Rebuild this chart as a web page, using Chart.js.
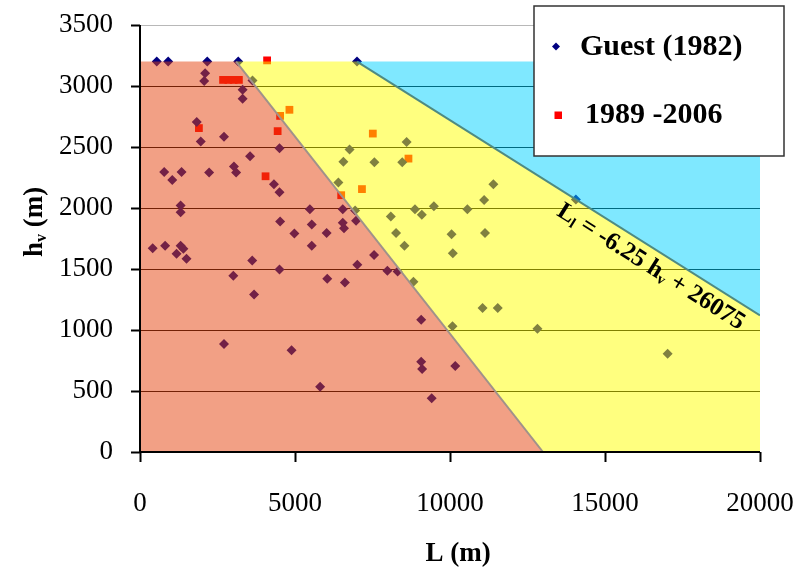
<!DOCTYPE html>
<html lang="en">
<head>
<meta charset="UTF-8">
<title>Runout L vs height hv</title>
<style>
  body { margin: 0; background: #fff; }
  .wrap { width: 800px; height: 574px; }
</style>
</head>
<body>
<div class="wrap"><canvas id="chart"></canvas></div>
<script src="https://cdn.jsdelivr.net/npm/chart.js"></script>
<script>
// axis ticks
const xTicks = [0, 5000, 10000, 15000, 20000];
const yTicks = [0, 500, 1000, 1500, 2000, 2500, 3000, 3500];

// Guest (1982): L (m), hv (m)
const guestL = [540, 910, 2170, 3170, 7000, 2100, 2070, 3630, 3310, 3310, 1830, 2710, 1960, 4500, 3550,
  780, 1340, 2230, 3030, 3100, 1040, 4320, 4500, 6400, 6560, 6760, 1310, 1310, 5480, 6540,
  4520, 5540, 6540, 6580, 4980, 6020, 5540, 410, 810, 1310, 1400, 1180, 1500, 3620, 3010,
  4500, 3680, 6040, 6610, 2710, 4890, 5810, 8600, 7560, 8460, 11400, 11100, 9480, 10560, 8870,
  9090, 8090, 6940, 6970, 8260, 10050, 11130, 8530, 10090, 7550, 7010, 7980, 8310, 8820, 11050,
  11540, 9070, 10080, 9070, 9100, 10170, 9410, 12820, 17020, 14060];
const guestH = [3200, 3200, 3200, 3200, 3200, 3105, 3040, 3045, 2970, 2895, 2705, 2585, 2545, 2490, 2425,
  2295, 2295, 2290, 2340, 2290, 2230, 2195, 2130, 2210, 2380, 2480, 2020, 1965, 1990, 1990,
  1890, 1865, 1880, 1835, 1790, 1795, 1690, 1670, 1690, 1690, 1665, 1625, 1585, 1570, 1445,
  1495, 1290, 1420, 1390, 885, 835, 535, 2540, 2375, 2375, 2195, 2065, 2015, 1990, 1990,
  1945, 1930, 1980, 1895, 1795, 1785, 1795, 1690, 1630, 1615, 1535, 1485, 1480, 1395, 1180,
  1180, 1085, 1030, 740, 680, 705, 440, 1010, 805, 2070];

// 1989 - 2006
const recentL = [2680, 2850, 3020, 3190, 4100, 4820, 4520, 1900, 4440, 4050, 6490, 7510, 8660, 7160];
const recentH = [3050, 3050, 3050, 3050, 3210, 2805, 2755, 2655, 2630, 2260, 2105, 2610, 2405, 2155];

// shaded zones (corners)
const redZoneL = [0, 0, 3100, 13000, 0];
const redZoneH = [0, 3200, 3200, 0, 0];
const yellowZoneL = [3100, 7000, 20000, 20000, 13000, 3100];
const yellowZoneH = [3200, 3200, 1120, 0, 0, 3200];
const cyanZoneL = [7000, 20000, 20000, 7000];
const cyanZoneH = [3200, 3200, 1120, 3200];
// boundary lines
const limitL = [7000, 20000];
const limitH = [3200, 1120];
const splitL = [3100, 13000];
const splitH = [3200, 0];

function pts(xs, ys) {
  return xs.map((x, i) => ({ x: x, y: ys[i] }));
}

const SERIF = '"Liberation Serif", "Times New Roman", serif';

// draws a string made of normal / subscript pieces, centred at (0,0)
function drawRich(ctx, parts, size) {
  const fonts = parts.map(p => 'bold ' + (p.sub ? Math.round(size * 0.6) : size) + 'px ' + SERIF);
  let total = 0;
  const widths = parts.map((p, i) => { ctx.font = fonts[i]; const w = ctx.measureText(p.t).width; total += w; return w; });
  let x = -total / 2;
  ctx.textBaseline = 'alphabetic';
  ctx.textAlign = 'left';
  parts.forEach((p, i) => {
    ctx.font = fonts[i];
    ctx.fillText(p.t, x, p.sub ? size * 0.35 + size * 0.12 : size * 0.35);
    x += widths[i];
  });
}

function noPad(axis) {
  axis.paddingTop = 0;
  axis.paddingBottom = 0;
  axis.paddingLeft = 0;
  axis.paddingRight = 0;
}

const extras = {
  id: 'extras',
  afterDatasetsDraw(chart) {
    const { ctx, chartArea: a } = chart;
    ctx.save();
    ctx.strokeStyle = '#000';
    ctx.lineWidth = 2;
    ctx.beginPath();
    ctx.moveTo(a.left, a.top);
    ctx.lineTo(a.left, a.bottom);
    ctx.lineTo(a.right, a.bottom);
    ctx.stroke();
    ctx.restore();
  },
  afterDraw(chart) {
    const { ctx } = chart;
    const xs = chart.scales.x, ys = chart.scales.y;
    ctx.save();
    ctx.fillStyle = '#000';

    // equation along the upper boundary
    const x1 = xs.getPixelForValue(limitL[0]), y1 = ys.getPixelForValue(limitH[0]);
    const x2 = xs.getPixelForValue(limitL[1]), y2 = ys.getPixelForValue(limitH[1]);
    const ang = Math.atan2(y2 - y1, x2 - x1);
    const t = 0.752;
    const cx = x1 + (x2 - x1) * t - Math.sin(ang) * 15;
    const cy = y1 + (y2 - y1) * t + Math.cos(ang) * 15;
    ctx.save();
    ctx.translate(cx, cy);
    ctx.rotate(ang);
    drawRich(ctx, [{ t: 'L' }, { t: 'l', sub: true }, { t: ' = -6.25 h' }, { t: 'v', sub: true }, { t: ' + 26075' }], 25);
    ctx.restore();

    // axis titles
    ctx.save();
    ctx.translate(458, 552);
    drawRich(ctx, [{ t: 'L (m)' }], 27);
    ctx.restore();
    ctx.save();
    ctx.translate(33, 222);
    ctx.rotate(-Math.PI / 2);
    drawRich(ctx, [{ t: 'h' }, { t: 'v', sub: true }, { t: ' (m)' }], 27);
    ctx.restore();

    // legend box
    ctx.fillStyle = '#fff';
    ctx.fillRect(534, 6, 250, 150);
    ctx.strokeStyle = '#333';
    ctx.lineWidth = 1.5;
    ctx.strokeRect(534, 6, 250, 150);
    ctx.fillStyle = '#000080';
    ctx.beginPath();
    ctx.moveTo(556, 42.5); ctx.lineTo(560, 46.5); ctx.lineTo(556, 50.5); ctx.lineTo(552, 46.5);
    ctx.closePath();
    ctx.fill();
    ctx.fillStyle = '#ff0000';
    ctx.fillRect(554.5, 111.5, 7.5, 7.5);
    ctx.fillStyle = '#000';
    ctx.font = 'bold 30px ' + SERIF;
    ctx.textAlign = 'left';
    ctx.textBaseline = 'alphabetic';
    ctx.fillText('Guest (1982)', 580, 55);
    ctx.fillText('1989 -2006', 585, 123);
    ctx.restore();
  }
};

const tickFont = { family: SERIF, size: 27 };

new Chart(document.getElementById('chart'), {
  type: 'scatter',
  data: {
    datasets: [
      { type: 'line', data: pts(splitL, splitH), borderColor: '#a0928a', borderWidth: 2, pointRadius: 0, fill: false, order: 0 },
      { type: 'line', data: pts(limitL, limitH), borderColor: '#4e8a82', borderWidth: 2, pointRadius: 0, fill: false, order: 0 },
      { type: 'line', data: pts(redZoneL, redZoneH), borderWidth: 0, pointRadius: 0, fill: 'shape', backgroundColor: 'rgba(229,65,12,0.5)', tension: 0, order: 1 },
      { type: 'line', data: pts(yellowZoneL, yellowZoneH), borderWidth: 0, pointRadius: 0, fill: 'shape', backgroundColor: 'rgba(255,255,0,0.5)', tension: 0, order: 1 },
      { type: 'line', data: pts(cyanZoneL, cyanZoneH), borderWidth: 0, pointRadius: 0, fill: 'shape', backgroundColor: 'rgba(0,210,255,0.5)', tension: 0, order: 1 },
      { label: 'Guest (1982)', data: pts(guestL, guestH), pointStyle: 'rectRot', pointRadius: 5, backgroundColor: '#000080', borderWidth: 0, order: 2 },
      { label: '1989 -2006', data: pts(recentL, recentH), pointStyle: 'rect', pointRadius: 5.5, backgroundColor: '#ff0000', borderWidth: 0, order: 2 }
    ]
  },
  options: {
    responsive: true,
    maintainAspectRatio: false,
    animation: false,
    layout: { padding: { top: 25, right: 40, left: 0, bottom: 0 } },
    plugins: { legend: { display: false }, tooltip: { enabled: false } },
    scales: {
      x: {
        min: 0, max: 20000,
        afterBuildTicks: axis => { axis.ticks = xTicks.map(v => ({ value: v })); },
        afterFit: axis => { axis.height = 122; noPad(axis); },
        ticks: { font: tickFont, color: '#000', padding: 26, maxRotation: 0, callback: v => String(v) },
        grid: { drawOnChartArea: false, tickLength: 10, tickColor: '#000', tickWidth: 2 },
        border: { display: false }
      },
      y: {
        min: 0, max: 3500,
        afterBuildTicks: axis => { axis.ticks = yTicks.map(v => ({ value: v })); },
        afterFit: axis => { axis.width = 140; noPad(axis); },
        ticks: { font: tickFont, color: '#000', padding: 18, callback: v => String(v) },
        grid: { color: c => (c.tick && c.tick.value === 3500 ? '#b8b8b8' : '#000'), lineWidth: 1, tickLength: 9, tickColor: '#000', tickWidth: 2 },
        border: { display: false }
      }
    }
  },
  plugins: [extras]
});
</script>
</body>
</html>
